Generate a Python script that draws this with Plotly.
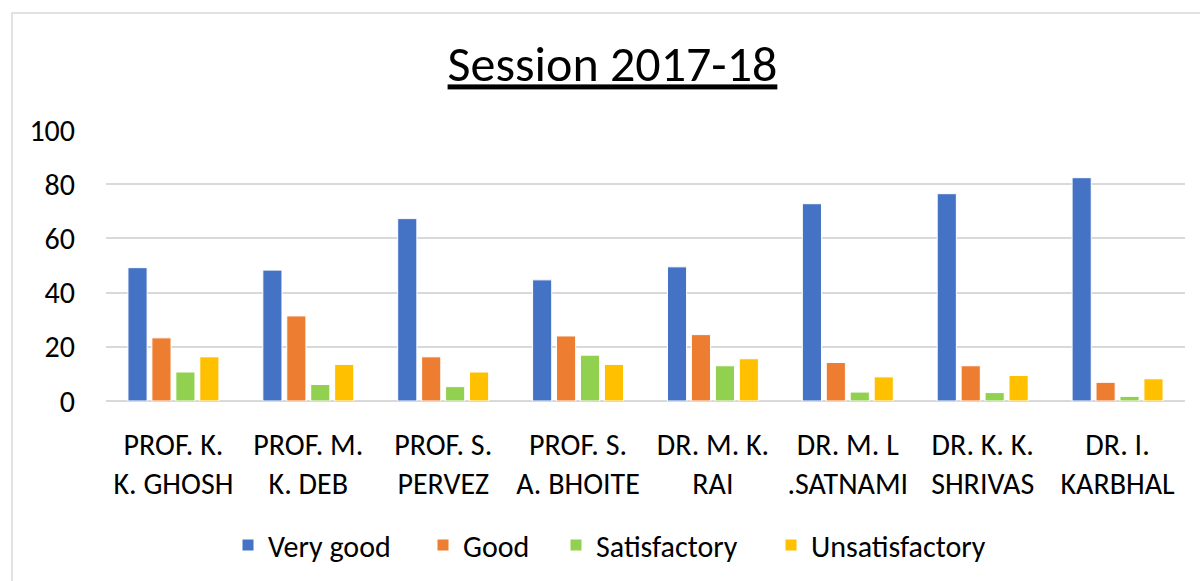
import plotly.graph_objects as go

categories = ["PROF. K.<br>K. GHOSH", "PROF. M.<br>K. DEB", "PROF. S.<br>PERVEZ", "PROF. S.<br>A. BHOITE",
              "DR. M. K.<br>RAI", "DR. M. L<br>.SATNAMI", "DR. K. K.<br>SHRIVAS", "DR. I.<br>KARBHAL"]
very_good = [49.2, 48.3, 67.3, 44.7, 49.5, 72.8, 76.5, 82.4]
good = [23.3, 31.4, 16.3, 24.0, 24.5, 14.2, 13.0, 6.9]
satisfactory = [10.7, 6.1, 5.3, 16.9, 13.0, 3.3, 3.1, 1.7]
unsatisfactory = [16.3, 13.5, 10.7, 13.5, 15.6, 8.9, 9.4, 8.2]

series = [("Very good", very_good, "#4472C4"),
          ("Good", good, "#ED7D31"),
          ("Satisfactory", satisfactory, "#92D050"),
          ("Unsatisfactory", unsatisfactory, "#FFC000")]

# left pixel of each legend swatch in the reference
legend_px = [240, 435, 568, 783]

FONT = "Carlito, Lato, sans-serif"
L, R, T, B = 106, 15, 130, 179
PW = 1200 - L - R
PH = 581 - T - B

fig = go.Figure()
legend_names = ["legend", "legend2", "legend3", "legend4"]
for (name, vals, col), lg in zip(series, legend_names):
    fig.add_trace(go.Bar(x=categories, y=vals, name=name, legend=lg,
                         marker=dict(color=col, line=dict(color="white", width=1))))

layout_legends = {}
for lg, px in zip(legend_names, legend_px):
    layout_legends[lg] = dict(x=(px - 12 - L) / PW, xanchor="left", y=(T + PH - 545) / PH, yanchor="middle",
                              orientation="h", bgcolor="rgba(0,0,0,0)",
                              font=dict(family=FONT, size=30, color="#000000"), itemwidth=30)

fig.update_layout(
    width=1200, height=581,
    paper_bgcolor="white", plot_bgcolor="white",
    margin=dict(l=L, r=R, t=T, b=B),
    barmode="group", bargap=0.29, bargroupgap=0.2,
    font=dict(family=FONT, color="#000000", size=28),
    title=dict(text="<u>Session 2017-18</u>", x=0.5104, xanchor="center", y=0.89, yanchor="middle",
               font=dict(family=FONT, size=50, color="#000000")),
    showlegend=True,
    **layout_legends,
)
fig.update_yaxes(range=[0, 100], dtick=20, showgrid=True, gridcolor="#D9D9D9", gridwidth=1.5,
                 zeroline=True, zerolinecolor="#D9D9D9", zerolinewidth=1.5, showline=False,
                 ticks="", ticklabelstandoff=30, tickfont=dict(family=FONT, size=30, color="#000000"))
fig.update_xaxes(showgrid=False, showline=False, ticks="", ticklabelstandoff=23,
                 tickfont=dict(family=FONT, size=30, color="#000000"), tickangle=0)

fig.add_shape(type="rect", xref="paper", yref="paper",
              x0=(12 - L) / PW, x1=1.2, y0=-1.0, y1=(T + PH - 12.5) / PH,
              line=dict(color="#D9D9D9", width=1.5), fillcolor="rgba(0,0,0,0)", layer="below")

fig.write_html("out.html", post_script="document.body.style.margin='0';",
               config={"displayModeBar": False})
